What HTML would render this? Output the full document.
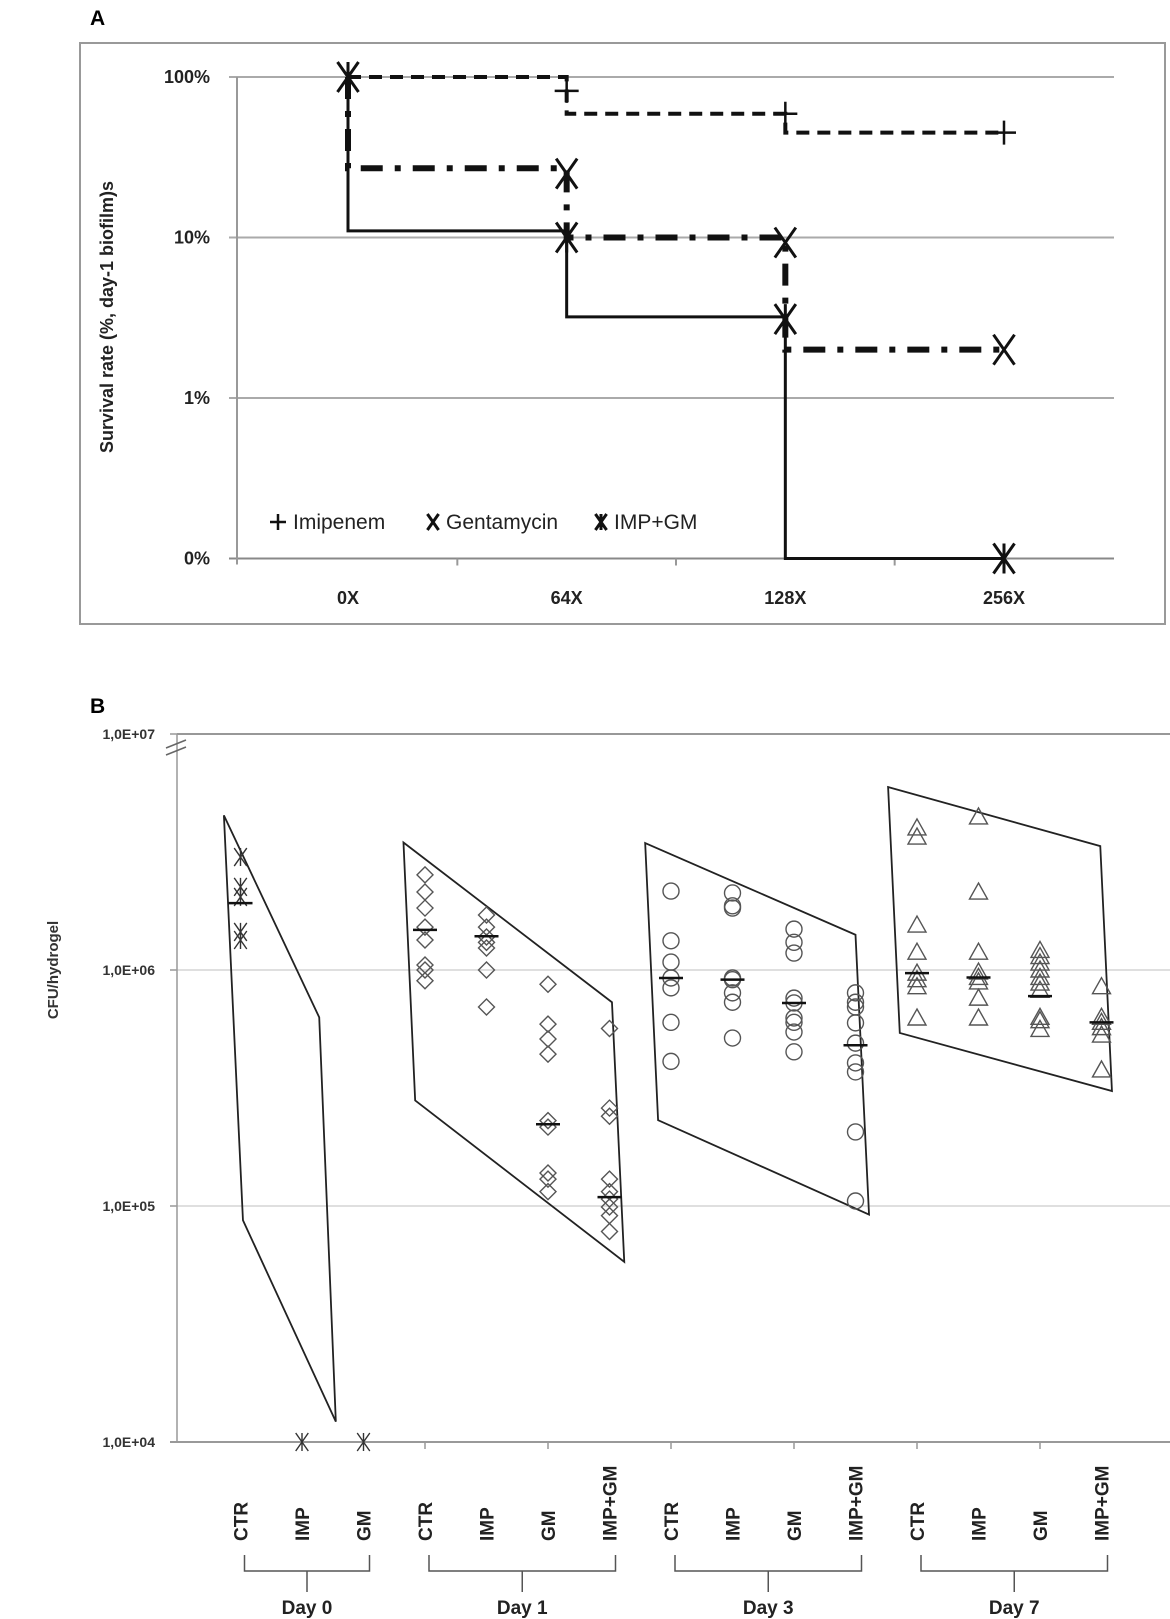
<!DOCTYPE html>
<html><head><meta charset="utf-8">
<style>
html,body{margin:0;padding:0;background:#fff;}
svg{display:block;font-family:"Liberation Sans",Arial,sans-serif;}
</style></head>
<body>
<svg id="fig" width="1170" height="1619" viewBox="0 0 1170 1619" xmlns="http://www.w3.org/2000/svg">
<g id="panelA"></g>
<g id="panelB"></g>
</svg>
<script>
// ---------- Panel A data ----------
const aCategories = ["0X","64X","128X","256X"];
const aTicks = ["100%","10%","1%","0%"];
const aTickValues = [100,10,1,0.1];
const impLevels = [100,59,45,45];
const impMarkers = [100,82,59,45];
const gmLevels = [27,10,2,2];
const gmMarkers = [100,25,9.3,2];
const comboLevels = [11,3.2,0.1,0.1];
const comboMarkers = [100,10,3.1,0.1];

// ---------- Panel B data ----------
const bCategories = ["CTR","IMP","GM","CTR","IMP","GM","IMP+GM","CTR","IMP","GM","IMP+GM","CTR","IMP","GM","IMP+GM"];
const bDays = ["Day 0","Day 1","Day 3","Day 7"];
const bDayFirst = [1,4,8,12];
const bDayLast = [3,7,11,15];
const bTicks = ["1,0E+07","1,0E+06","1,0E+05","1,0E+04"];
const bTickValues = [1e7,1e6,1e5,1e4];
const day0Values = [[3.01e6,2.25e6,2.04e6,1.45e6,1.34e6],[1e4],[1e4]];
const day0Means = [1.92e6,null,null];
const day1Values = [
 [2.53e6,2.14e6,1.83e6,1.52e6,1.34e6,1.05e6,1.0e6,9.0e5],
 [1.71e6,1.52e6,1.38e6,1.31e6,1.24e6,1.0e6,6.97e5],
 [8.7e5,5.9e5,5.1e5,4.4e5,2.3e5,2.16e5,1.38e5,1.3e5,1.15e5],
 [5.65e5,2.6e5,2.4e5,1.3e5,1.15e5,1.07e5,9.9e4,9.1e4,7.8e4]];
const day1Means = [1.48e6,1.39e6,2.22e5,1.09e5];
const day3Values = [
 [2.16e6,1.33e6,1.08e6,9.25e5,8.4e5,6.0e5,4.1e5],
 [2.12e6,1.87e6,1.83e6,9.25e5,9.1e5,8.0e5,7.3e5,5.15e5],
 [1.49e6,1.31e6,1.18e6,7.6e5,7.25e5,6.26e5,6.0e5,5.46e5,4.5e5],
 [8.0e5,7.3e5,6.97e5,5.97e5,4.9e5,4.04e5,3.7e5,2.06e5,1.05e5]];
const day3Means = [9.25e5,9.1e5,7.25e5,4.8e5];
const day7Values = [
 [4.0e6,3.66e6,1.55e6,1.19e6,9.7e5,9.1e5,8.5e5,6.26e5],
 [4.45e6,2.14e6,1.19e6,9.8e5,9.3e5,8.9e5,7.6e5,6.26e5],
 [1.21e6,1.14e6,1.07e6,1.0e6,9.3e5,8.8e5,8.2e5,6.3e5,6.1e5,5.6e5],
 [8.5e5,6.3e5,6.0e5,5.7e5,5.3e5,3.77e5]];
const day7Means = [9.7e5,9.3e5,7.75e5,6.0e5];
// envelopes as [category position, value]
const day0Envelope = [[0.73,4.52e6],[2.28,6.3e5],[2.55,1.22e4],[1.04,8.7e4]];
const day1Envelope = [[3.65,3.47e6],[7.04,7.3e5],[7.24,5.8e4],[3.84,2.8e5]];
const day3Envelope = [[7.58,3.45e6],[11.0,1.41e6],[11.22,9.2e4],[7.79,2.31e5]];
const day7Envelope = [[11.53,5.96e6],[14.98,3.35e6],[15.17,3.07e5],[11.72,5.41e5]];

const NS="http://www.w3.org/2000/svg";
function mk(parent,tag,attrs,text){const e=document.createElementNS(NS,tag);for(const k in attrs)e.setAttribute(k,attrs[k]);if(text!=null)e.textContent=text;parent.appendChild(e);return e;}

// ================= PANEL A =================
const A=document.getElementById('panelA');
const axA=i=>348+(1004-348)/3*i;
const ayA=v=>77+160.5*Math.log10(100/v);

let t=mk(A,'text',{x:90,y:25,'font-size':21,'font-weight':'bold'},'A');


let fr=mk(A,'rect',{x:80,y:43,width:1085,height:581,fill:'none',stroke:'#999','stroke-width':2});



aTickValues.forEach((v,i)=>{
  const y=ayA(v);
  const g=mk(A,'line',{x1:229,x2:1114,y1:y,y2:y,stroke:i===3?'#888':'#aaa','stroke-width':2});
  
  
  const l=mk(A,'text',{x:210,y:y+6,'font-size':18,'font-weight':'bold','text-anchor':'end',fill:'#222'},aTicks[i]);
  
  
});
let ya=mk(A,'line',{x1:237,x2:237,y1:ayA(100),y2:ayA(0.1)+6,stroke:'#999','stroke-width':2});


aCategories.forEach((c,i)=>{
  const l=mk(A,'text',{x:axA(i),y:604,'font-size':18,'font-weight':'bold','text-anchor':'middle',fill:'#222'},c);
  
  
  if(i<3){const tk=mk(A,'line',{x1:(axA(i)+axA(i+1))/2,x2:(axA(i)+axA(i+1))/2,y1:ayA(0.1),y2:ayA(0.1)+7,stroke:'#999','stroke-width':2});
  
  }
});
const yt=mk(A,'text',{x:0,y:0,'font-size':18,'font-weight':'bold','text-anchor':'middle',fill:'#222',transform:'translate(113,317) rotate(-90)'},'Survival rate (%, day-1 biofilm)s');



function stepPath(levels){let d=`M${axA(0)},${ayA(100)} V${ayA(levels[0])}`;for(let i=1;i<levels.length;i++){d+=` H${axA(i)} V${ayA(levels[i])}`;}return d;}
let p=mk(A,'path',{d:stepPath(comboLevels),fill:'none',stroke:'#111','stroke-width':3});


p=mk(A,'path',{d:stepPath(gmLevels),fill:'none',stroke:'#111','stroke-width':6,'stroke-dasharray':'22 12 6 12'});


p=mk(A,'path',{d:stepPath(impLevels),fill:'none',stroke:'#111','stroke-width':4,'stroke-dasharray':'13 8'});



function plusM(g,x,y,s,w){return mk(g,'path',{d:`M${x-s},${y}H${x+s}M${x},${y-s}V${y+s}`,stroke:'#111','stroke-width':w,fill:'none'});}
function xM(g,x,y,s,w){return mk(g,'path',{d:`M${x-s*0.7},${y-s}L${x+s*0.7},${y+s}M${x+s*0.7},${y-s}L${x-s*0.7},${y+s}`,stroke:'#111','stroke-width':w,fill:'none'});}
function starM(g,x,y,s,w,col){return mk(g,'path',{d:`M${x-s*0.7},${y-s}L${x+s*0.7},${y+s}M${x+s*0.7},${y-s}L${x-s*0.7},${y+s}M${x},${y-s}V${y+s}`,stroke:col||'#111','stroke-width':w,fill:'none'});}

impMarkers.forEach((v,i)=>{if(i===0)return;const m=plusM(A,axA(i),ayA(v),12,2.5);

});
gmMarkers.forEach((v,i)=>{if(i===0)return;const m=xM(A,axA(i),ayA(v),15,3);

});
comboMarkers.forEach((v,i)=>{const m=starM(A,axA(i),ayA(v),15,3);

});

// legend
const lg=mk(A,'g',{});


let le=mk(lg,'g',{});
plusM(le,278,522,8,2.5);mk(le,'text',{x:293,y:529,'font-size':21,fill:'#222'},'Imipenem');
le=mk(lg,'g',{});
xM(le,433,522,8,3);mk(le,'text',{x:446,y:529,'font-size':21,fill:'#222'},'Gentamycin');
le=mk(lg,'g',{});
starM(le,601,522,8,3);mk(le,'text',{x:614,y:529,'font-size':21,fill:'#222'},'IMP+GM');

// ================= PANEL B =================
const B=document.getElementById('panelB');
const bx=k=>179+61.5*k;
const by=v=>970-236*(Math.log10(v)-6);

t=mk(B,'text',{x:90,y:713,'font-size':21,'font-weight':'bold'},'B');



bTickValues.forEach((v,i)=>{
  const y=by(v);
  if(i===1||i===2){const g=mk(B,'line',{x1:177,x2:1170,y1:y,y2:y,stroke:'#ccc','stroke-width':1.2});
  
  }
  const tk=mk(B,'line',{x1:170,x2:177,y1:y,y2:y,stroke:'#999','stroke-width':1.5});
  
  
  const l=mk(B,'text',{x:155,y:y+5,'font-size':14,'font-weight':'bold','text-anchor':'end',fill:'#333'},bTicks[i]);
  
  
});
let topBorder=mk(B,'line',{x1:177,x2:1170,y1:by(1e7),y2:by(1e7),stroke:'#777','stroke-width':1.5});


let yb=mk(B,'line',{x1:177,x2:177,y1:by(1e7),y2:by(1e4),stroke:'#999','stroke-width':1.5});


let brk=mk(B,'path',{d:'M166,748L186,740M166,755L186,747',stroke:'#666','stroke-width':1.5,fill:'none'});


let xb=mk(B,'line',{x1:170,x2:1170,y1:by(1e4),y2:by(1e4),stroke:'#999','stroke-width':2});


[4,6,8,10,12,14].forEach(k=>{const tk=mk(B,'line',{x1:bx(k),x2:bx(k),y1:by(1e4),y2:by(1e4)+7,stroke:'#999','stroke-width':1.5});

});
const ybt=mk(B,'text',{x:0,y:0,'font-size':15,'font-weight':'bold','text-anchor':'middle',fill:'#333',transform:'translate(58,970) rotate(-90)'},'CFU/hydrogel');



bCategories.forEach((c,i)=>{
  const k=i+1;
  const l=mk(B,'text',{x:0,y:0,'font-size':19,'font-weight':'bold',fill:'#222',transform:`translate(${bx(k)+7},1541) rotate(-90)`},c);
  
  
});
bDays.forEach((d,i)=>{
  const x1=bx(bDayFirst[i])+4,x2=bx(bDayLast[i])+6,xm=(x1+x2)/2;
  const br=mk(B,'path',{d:`M${x1},1555V1571H${x2}V1555M${xm},1571V1592`,stroke:'#555','stroke-width':1.5,fill:'none'});
  
  
  const l=mk(B,'text',{x:xm,y:1614,'font-size':19,'font-weight':'bold','text-anchor':'middle',fill:'#222'},d);
  
  
});

[day0Envelope,day1Envelope,day3Envelope,day7Envelope].forEach((env,i)=>{
  const pts=env.map(pt=>`${bx(pt[0])},${by(pt[1])}`).join(' ');
  const pg=mk(B,'polygon',{points:pts,fill:'none',stroke:'#222','stroke-width':1.8});
  
  
});

const MC='#555';
function diamond(g,x,y){return mk(g,'path',{d:`M${x},${y-8}L${x+8},${y}L${x},${y+8}L${x-8},${y}Z`,fill:'none',stroke:MC,'stroke-width':1.4});}
function circleM(g,x,y){return mk(g,'circle',{cx:x,cy:y,r:8,fill:'none',stroke:MC,'stroke-width':1.4});}
function tri(g,x,y){return mk(g,'path',{d:`M${x},${y-9}L${x+9},${y+7}L${x-9},${y+7}Z`,fill:'none',stroke:MC,'stroke-width':1.4});}

function drawGroup(values,means,startK,shape,label){
  values.forEach((arr,j)=>{
    const k=startK+j;
    arr.forEach(v=>{
      const m=shape(B,bx(k),by(v));
      
      
    });
    if(means[j]!=null){
      const ml=mk(B,'line',{x1:bx(k)-12,x2:bx(k)+12,y1:by(means[j]),y2:by(means[j]),stroke:'#111','stroke-width':2.5});
      
      
    }
  });
}
drawGroup(day0Values,day0Means,1,(g,x,y)=>starM(g,x,y,9,1.4,'#333'),'day0');
drawGroup(day1Values,day1Means,4,diamond,'day1');
drawGroup(day3Values,day3Means,8,circleM,'day3');
drawGroup(day7Values,day7Means,12,tri,'day7');
</script>
</body></html>
